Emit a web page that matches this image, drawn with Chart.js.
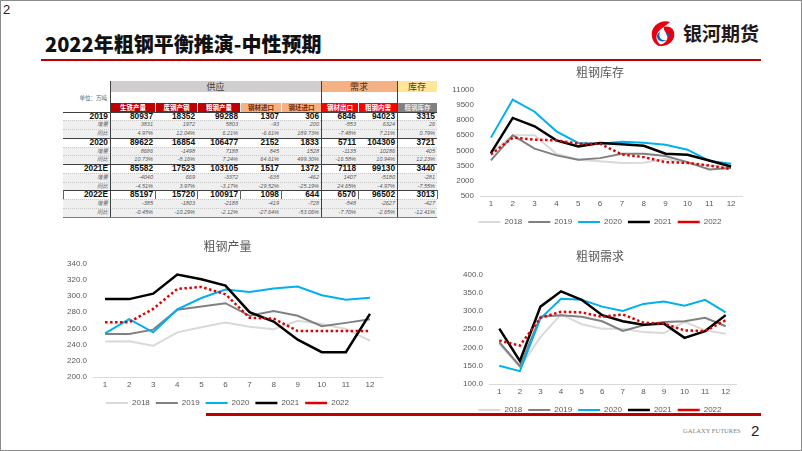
<!DOCTYPE html>
<html lang="zh-CN">
<head>
<meta charset="UTF-8">
<title>2022年粗钢平衡推演-中性预期</title>
<script src="https://cdn.jsdelivr.net/npm/chart.js"></script>
<style>
  html, body { margin: 0; padding: 0; }
  body { width: 802px; height: 451px; position: relative; overflow: hidden; background: #fff;
         font-family: "Liberation Sans", Arial, "Noto Sans CJK SC", sans-serif; }
  #frame { position: absolute; left: 0; top: 0; width: 800px; height: 449px; border: 1px solid #8c8c8c; }
  .abs { position: absolute; }
  #pageNo { left: 3px; top: 2px; font-size: 13px; color: #222; }
  #title { left: 45px; top: 30px; font-family: "Noto Sans CJK SC", sans-serif; font-weight: 900;
           font-size: 20px; line-height: 28px; color: #111; white-space: nowrap; }
  #logoText { left: 683px; top: 20px; font-family: "Noto Sans CJK SC", sans-serif; font-weight: 700;
              font-size: 19px; line-height: 26px; color: #231815; white-space: nowrap; }
  .redline { background: #c00000; }
  #footer { left: 683px; top: 427px; font-family: "Liberation Serif", "DejaVu Serif", serif; font-size: 6.5px;
            color: #808080; white-space: nowrap; }
  #footNo { left: 751px; top: 422px; font-size: 15px; color: #222; }
  .cell { position: absolute; box-sizing: border-box; white-space: nowrap; overflow: hidden; }
  .chartBox { position: absolute; }
</style>
</head>
<body>
<div id="frame"></div>
<div id="pageNo" class="abs">2</div>
<div id="title" class="abs">2022年粗钢平衡推演-中性预期</div>
<svg class="abs" style="left:648px; top:19px" width="30" height="30" viewBox="0 0 30 30">
  <path d="M22 3 C12 0 2 8 4 18 C5 24 10 28 15 27 C8 24 6 16 12 11 C15 8 19 6 22 3 Z" fill="#e60012"/>
  <path d="M16 8 C22 6 28 11 26 18 C24 25 16 29 9 26 C16 26 21 21 19 16 C18 13 15 11 16 8 Z" fill="#e60012"/>
  <path d="M12 13 C10 18 13 22 18 21 C15 24 9 22 9 17 C9 15 10 14 12 13 Z" fill="#0068b7"/>
  <path d="M18 14 C21 13 22 16 20 18 C19 16 18 15 18 14 Z" fill="#0068b7"/>
</svg>
<div id="logoText" class="abs">银河期货</div>
<div class="abs redline" style="left:41px; top:59px; width:720px; height:2px;"></div>
<div class="abs redline" style="left:206px; top:413px; width:555px; height:3px;"></div>
<div id="footer" class="abs">GALAXY FUTURES</div>
<div id="footNo" class="abs">2</div>

<div id="table"></div>

<div class="chartBox" id="box1" style="left:440px; top:62px; width:320px; height:174px;"><canvas id="stockChart"></canvas></div>
<div class="chartBox" id="box2" style="left:55px; top:236px; width:345px; height:181px;"><canvas id="outputChart"></canvas></div>
<div class="chartBox" id="box3" style="left:440px; top:246px; width:320px; height:178px;"><canvas id="demandChart"></canvas></div>

<script>
// ---- 平衡表数据 ----
const tableColumns = ['生铁产量', '废钢产钢', '粗钢产量', '钢材进口', '钢坯进口', '钢材出口', '粗钢内需', '粗钢库存'];
const tableGroups = ['供应', '需求', '库存'];
const tableYears = ['2019', '2020', '2021E', '2022E'];
const values2019 = [80937, 18352, 99288, 1307, 306, 6846, 94023, 3315];
const delta2019 = [3831, 1972, 5803, -93, 200, -553, 6324, 26];
const yoy2019 = ['4.97%', '12.04%', '6.21%', '-6.61%', '189.73%', '-7.48%', '7.21%', '0.79%'];
const values2020 = [89622, 16854, 106477, 2152, 1833, 5711, 104309, 3721];
const delta2020 = [8686, -1498, 7188, 845, 1528, -1135, 10286, 405];
const yoy2020 = ['10.73%', '-8.16%', '7.24%', '64.61%', '499.30%', '-16.58%', '10.94%', '12.23%'];
const values2021 = [85582, 17523, 103105, 1517, 1372, 7118, 99130, 3440];
const delta2021 = [-4040, 669, -3372, -635, -462, 1407, -5180, -281];
const yoy2021 = ['-4.51%', '3.97%', '-3.17%', '-29.52%', '-25.19%', '24.65%', '-4.97%', '-7.55%'];
const values2022 = [85197, 15720, 100917, 1098, 644, 6570, 96502, 3013];
const delta2022 = [-385, -1803, -2188, -419, -728, -548, -2627, -427];
const yoy2022 = ['-0.45%', '-10.29%', '-2.12%', '-27.64%', '-53.06%', '-7.70%', '-2.65%', '-12.41%'];

// ---- 图表数据 ----
const months = ['1', '2', '3', '4', '5', '6', '7', '8', '9', '10', '11', '12'];
const seriesNames = ['2018', '2019', '2020', '2021', '2022'];

const stock2018 = [4700, 6480, 6480, 4660, 4070, 3930, 3740, 3770, 4170, 3670, 3500, 3340];
const stock2019 = [4000, 6480, 5160, 4500, 4070, 4230, 4660, 4660, 4430, 3835, 3110, 3270];
const stock2020 = [6250, 10000, 8800, 6870, 5720, 5650, 5850, 5750, 5550, 5060, 3950, 3670];
const stock2021 = [4730, 8190, 7370, 5980, 5390, 5720, 5590, 5450, 4660, 4560, 4000, 3400];
const stock2022 = [4590, 6250, 6050, 5980, 5650, 5650, 4590, 4330, 3830, 3770, 3500, 3150];

const output2018 = [243.9, 244.0, 238.5, 255.0, 261.3, 267.0, 262.0, 258.8, 269.2, 265.4, 259.2, 244.7];
const output2019 = [253.0, 253.0, 258.4, 282.8, 287.0, 291.0, 275.4, 281.2, 275.4, 262.5, 266.7, 271.2];
const output2020 = [253.8, 271.2, 255.0, 283.3, 297.3, 307.7, 304.8, 309.0, 311.4, 300.7, 295.3, 297.8];
const output2021 = [296.1, 296.0, 302.7, 326.3, 320.5, 312.7, 280.0, 268.3, 246.0, 230.6, 230.6, 277.9];
const output2022 = [267.5, 267.5, 284.0, 308.5, 311.0, 302.0, 273.0, 272.0, 256.7, 256.7, 256.7, 256.7];

const demand2018 = [209.6, 146.4, 228.2, 290.4, 263.5, 251.4, 251.4, 242.0, 239.3, 270.0, 246.7, 237.5];
const demand2019 = [214.2, 149.2, 283.9, 288.5, 283.9, 271.8, 245.0, 260.7, 270.0, 271.8, 281.1, 258.0];
const demand2020 = [150.2, 135.3, 279.3, 333.1, 330.3, 311.8, 299.7, 319.2, 325.7, 314.5, 330.3, 296.0];
const demand2021 = [251.4, 163.0, 311.8, 353.6, 330.3, 288.5, 271.8, 262.5, 265.3, 226.3, 244.9, 288.5];
const demand2022 = [218.9, 205.0, 281.0, 297.8, 296.0, 283.9, 290.4, 268.0, 265.3, 246.7, 245.0, 274.6];

// ---- 表格 ----
const colX = [63, 110, 155, 197, 240, 281, 321, 358, 397, 437];
const table = document.getElementById('table');

function cell(x, y, w, h, text, style) {
  const d = document.createElement('div');
  d.className = 'cell';
  d.style.left = x + 'px'; d.style.top = y + 'px';
  d.style.width = w + 'px'; d.style.height = h + 'px';
  d.style.lineHeight = h + 'px';
  Object.assign(d.style, style || {});
  d.textContent = text;
  table.appendChild(d);
  return d;
}
function hline(x1, x2, y, color, dash) {
  cell(x1, y, x2 - x1, 0, '', { borderTop: '1px ' + (dash ? 'dotted ' : 'solid ') + color });
}
function vline(x, y1, y2, color) {
  cell(x, y1, 0, y2 - y1, '', { borderLeft: '1px solid ' + color });
}

// 顶部分组
const groupSpans = [[1, 6, '#d0cece', '#404040'], [6, 8, '#f4b183', '#5a2a0a'], [8, 9, '#ffe699', '#404040']];
groupSpans.forEach((g, i) => {
  cell(colX[g[0]], 81, colX[g[1]] - colX[g[0]], 11, tableGroups[i],
    { background: g[2], color: g[3], textAlign: 'center', fontSize: '9px', fontFamily: '"Noto Sans CJK SC", sans-serif' });
});
cell(63, 93, 44, 10, '单位：万吨', { fontSize: '5.5px', color: '#595959', textAlign: 'right', fontFamily: '"Noto Sans CJK SC", sans-serif' });

// 表头
const headBg = ['#c00000', '#c00000', '#c00000', '#f4b183', '#f4b183', '#ff0000', '#ff0000', '#808080'];
const headFg = ['#fff', '#fff', '#fff', '#7a2800', '#7a2800', '#fff', '#fff', '#e8e8e8'];
tableColumns.forEach((c, i) => {
  cell(colX[i + 1] + 1, 103, colX[i + 2] - colX[i + 1] - 1, 8.5, c,
    { background: headBg[i], color: headFg[i], textAlign: 'center', fontSize: '6.5px', fontWeight: '700',
      fontFamily: '"Noto Sans CJK SC", sans-serif' });
});

// 数据行
const rowBlocks = [
  [values2019, delta2019, yoy2019], [values2020, delta2020, yoy2020],
  [values2021, delta2021, yoy2021], [values2022, delta2022, yoy2022]
];
const rowH = 8.75;
let y = 111.5;
rowBlocks.forEach((blk, b) => {
  // 年份行
  cell(63, y, 47, rowH, tableYears[b], { textAlign: 'right', paddingRight: '2px', fontSize: '8.3px', fontWeight: '700', color: '#111' });
  blk[0].forEach((v, i) => {
    cell(colX[i + 1], y, colX[i + 2] - colX[i + 1], rowH, String(v),
      { textAlign: 'right', paddingRight: '2px', fontSize: '8.3px', fontWeight: '700', color: '#111' });
  });
  hline(63, 437, y, '#404040');
  if (b === 3) colX.forEach(x => vline(x, y, y + rowH, '#606060'));
  // 增量、同比
  [['增量', blk[1]], ['同比', blk[2]]].forEach((sub, k) => {
    const yy = y + rowH * (k + 1);
    cell(63, yy, 374, rowH, '', { background: '#efefef' });
    cell(63, yy, 47, rowH, sub[0], { textAlign: 'right', paddingRight: '2px', fontSize: '5.5px', fontStyle: 'italic',
      color: '#595959', fontFamily: '"Noto Sans CJK SC", sans-serif' });
    sub[1].forEach((v, i) => {
      cell(colX[i + 1], yy, colX[i + 2] - colX[i + 1], rowH, String(v),
        { textAlign: 'right', paddingRight: '2px', fontSize: '5.5px', fontStyle: 'italic', color: '#595959' });
    });
    hline(63, 437, yy, '#c8c8c8', true);
  });
  y += rowH * 3;
});
hline(63, 437, y, '#808080');
[110, 321, 397].forEach(x => vline(x, 81, y, '#404040'));

// ---- 折线图 ----
const lineColors = ['#d9d9d9', '#808080', '#00b0f0', '#000000', '#e00000'];
const lineWidths = [2, 2, 2, 2.5, 2.5];
const tickFont = { size: 8, family: '"Liberation Sans", Arial, sans-serif' };

function makeChart(id, title, data, yMin, yMax, yStep, digits, geo) {
  const datasets = seriesNames.map((name, i) => ({
    label: name,
    data: data[i],
    borderColor: lineColors[i],
    backgroundColor: lineColors[i],
    borderWidth: lineWidths[i],
    borderDash: i === 4 ? [2.5, 2.5] : [],
    pointRadius: 0,
    pointStyle: 'line',
    tension: 0,
    order: 4 - i
  }));
  return new Chart(document.getElementById(id), {
    type: 'line',
    data: { labels: months, datasets: datasets },
    options: {
      responsive: true,
      maintainAspectRatio: false,
      animation: false,
      layout: { padding: 0 },
      plugins: {
        title: {
          display: true, text: title, color: '#595959',
          font: { size: 12, family: '"Noto Sans CJK SC", sans-serif', weight: 'normal' },
          padding: { top: geo.titleTop, bottom: geo.titleBottom }
        },
        legend: {
          position: 'bottom',
          labels: {
            usePointStyle: true, pointStyleWidth: 22, padding: 6, color: '#595959',
            font: tickFont,
            sort: (a, b) => a.datasetIndex - b.datasetIndex
          }
        },
        tooltip: { enabled: false }
      },
      scales: {
        x: {
          offset: true,
          grid: { display: false, drawTicks: false },
          border: { display: true, color: '#d9d9d9', width: 1 },
          ticks: { color: '#595959', font: tickFont, padding: 3, maxRotation: 0, autoSkip: false },
          afterFit: s => { s.height = geo.xHeight; }
        },
        y: {
          min: yMin, max: yMax,
          grid: { display: false, drawTicks: false },
          border: { display: false },
          ticks: { stepSize: yStep, color: '#595959', font: tickFont, padding: 6,
                   callback: v => Number(v).toFixed(digits) },
          afterFit: s => { s.width = geo.yWidth; }
        },
        yRight: {
          type: 'linear', position: 'right',
          grid: { display: false, drawTicks: false },
          border: { display: false },
          ticks: { display: false },
          afterFit: s => { s.width = geo.rightWidth; }
        }
      }
    }
  });
}

makeChart('stockChart', '粗钢库存', [stock2018, stock2019, stock2020, stock2021, stock2022],
  500, 11000, 1500, 0, { yWidth: 40, rightWidth: 18, titleTop: 3, titleBottom: 10, xHeight: 16 });
makeChart('outputChart', '粗钢产量', [output2018, output2019, output2020, output2021, output2022],
  200, 340, 20, 1, { yWidth: 38, rightWidth: 18, titleTop: 3, titleBottom: 10, xHeight: 16 });
makeChart('demandChart', '粗钢需求', [demand2018, demand2019, demand2020, demand2021, demand2022],
  100, 400, 50, 1, { yWidth: 49, rightWidth: 24, titleTop: 3, titleBottom: 11, xHeight: 16 });
</script>
</body>
</html>
